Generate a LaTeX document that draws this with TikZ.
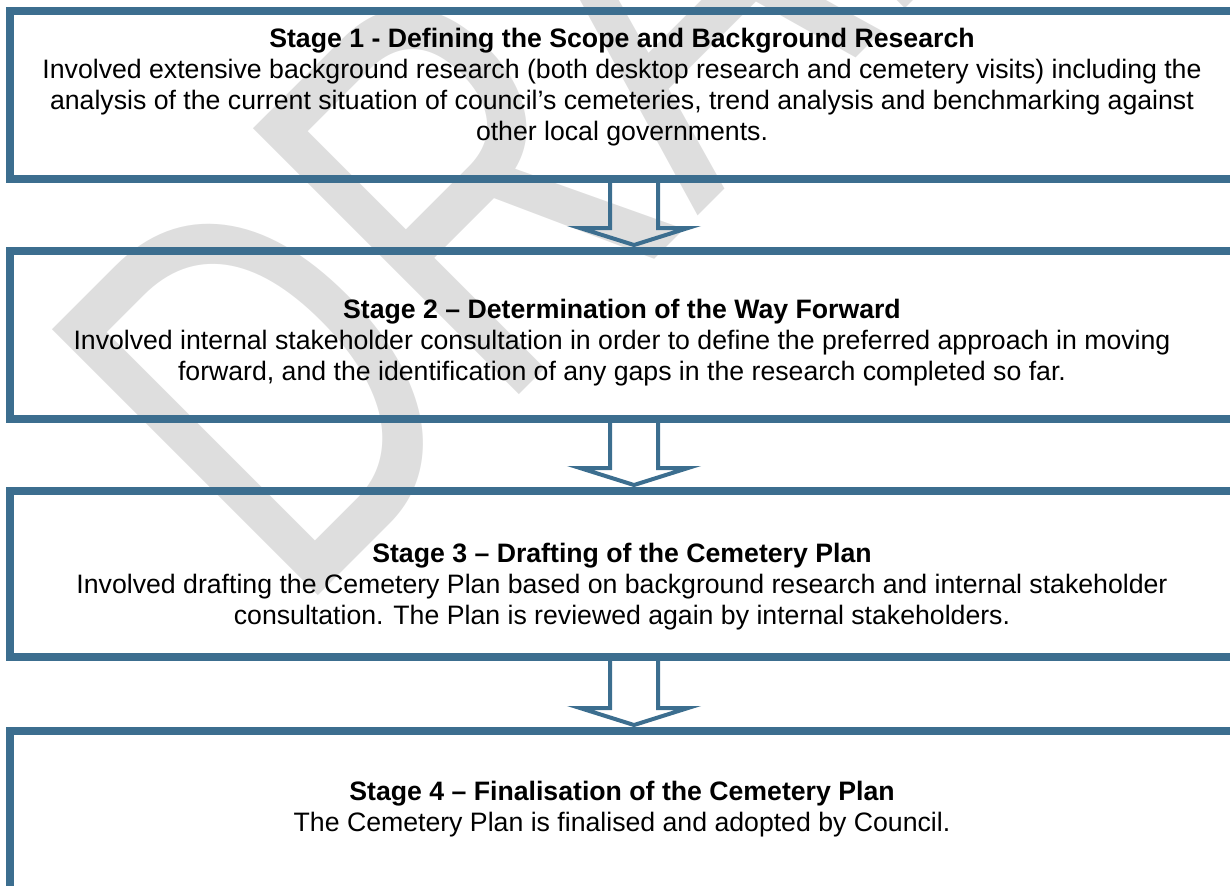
\documentclass[tikz,border=0pt]{standalone}
\usepackage{fontspec}
\setmainfont{Liberation Sans}
\usetikzlibrary{positioning,calc}
\definecolor{stageblue}{RGB}{60,110,143}
\definecolor{wmgray}{RGB}{222,222,222}
\tikzset{
  stagebox/.style={draw=stageblue, line width=6pt, minimum width=918pt, inner sep=0pt},
  stagetext/.style={align=center, inner sep=0pt, font=\fontsize{20}{23.25}\selectfont},
  flowarrow/.style={draw=stageblue, line width=3pt},
}
\newcommand\stagearrow[2]{%
  \draw[flowarrow]($(#1.south)+(-12,-2)$)--($(#2.north)+(-12,-19)$)--($(#2.north)+(-42,-19)$)
    --($(#2.north)+(12,-2)$)--($(#2.north)+(66,-19)$)--($(#2.north)+(36,-19)$)--($(#1.south)+(36,-2)$);}
\begin{document}
\begin{tikzpicture}[x=0.75pt, y=-0.75pt]
\useasboundingbox (0,0) rectangle (1230,885);
\clip (0,0) rectangle (1230,885);
\begin{scope}[shift={(317,597)}, rotate=45, xscale=0.72]
\node[transform shape, text=wmgray, font=\fontsize{410}{410}\selectfont, anchor=base west, inner sep=0pt] (wm) at (-43,0) {DRAFT};
\end{scope}
\node[stagebox, minimum height=126pt] (s1) at (622,95) {};
\node[stagebox, minimum height=126pt] (s2) at (622,335) {};
\node[stagebox, minimum height=124.5pt] (s3) at (622,574) {};
\node[stagebox, minimum height=156pt] (s4) at (622,835) {};
\stagearrow{s1}{s2}
\stagearrow{s2}{s3}
\stagearrow{s3}{s4}
\node[stagetext, below=15.5pt of s1.north] (t1) {\textbf{Stage 1 - Defining the Scope and Background Research}\\
  Involved extensive background research (both desktop research and cemetery visits) including the\\
  analysis of the current situation of council’s cemeteries, trend analysis and benchmarking against\\
  other local governments.};
\node[stagetext, below=38.7pt of s2.north] (t2) {\textbf{Stage 2 – Determination of the Way Forward}\\
  Involved internal stakeholder consultation in order to define the preferred approach in moving\\
  forward, and the identification of any gaps in the research completed so far.};
\node[stagetext, below=41.7pt of s3.north] (t3) {\textbf{Stage 3 – Drafting of the Cemetery Plan}\\
  Involved drafting the Cemetery Plan based on background research and internal stakeholder\\
  consultation. The Plan is reviewed again by internal stakeholders.};
\node[stagetext, below=40.2pt of s4.north] (t4) {\textbf{Stage 4 – Finalisation of the Cemetery Plan}\\
  The Cemetery Plan is finalised and adopted by Council.};
\end{tikzpicture}
\end{document}
